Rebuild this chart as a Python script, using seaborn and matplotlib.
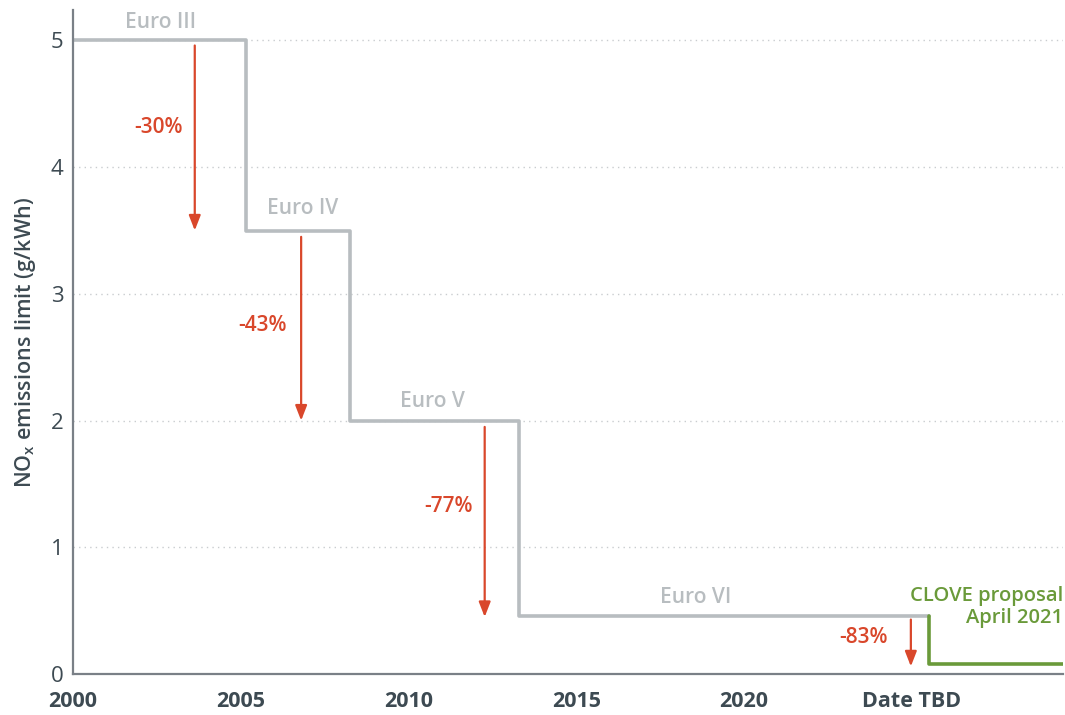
import matplotlib
matplotlib.use("Agg")
import matplotlib.pyplot as plt
import seaborn as sns
import pandas as pd

# ===============================
# DATOS
# ===============================

stage_names = ["Euro III", "Euro IV", "Euro V", "Euro VI"]
stage_start = [2000, 2005.15, 2008.25, 2013.3, 2025.5]
stage_limit = [5.0, 3.5, 2.0, 0.46, 0.46]

clove_x = [2025.5, 2025.5, 2029.5]
clove_y = [0.46, 0.08, 0.08]

drop_labels = ["-30%", "-43%", "-77%", "-83%"]
drop_x = [2003.63, 2006.8, 2012.27, 2024.97]
drop_top = [4.96, 3.45, 1.95, 0.43]
drop_bottom = [3.5, 2.0, 0.45, 0.06]

xtick_pos = [2000, 2005, 2010, 2015, 2020, 2025]
xtick_labels = ["2000", "2005", "2010", "2015", "2020", "Date TBD"]
ytick_pos = [0, 1, 2, 3, 4, 5]

GREY = "#b8bdc0"
GREEN = "#6a9a3a"
RED = "#d9472b"
TEXT = "#3d4a52"
FONT = "Open Sans"

# ===============================
# FIGURA
# ===============================

sns.set_style("white")
plt.rcParams["font.family"] = [FONT, "DejaVu Sans"]

fig = plt.figure(figsize=(10.65, 7.15), dpi=100)
ax = fig.add_axes([0.0685, 0.0573, 0.9295, 0.9287])

steps = pd.DataFrame({"year": stage_start, "limit": stage_limit})
sns.lineplot(data=steps, x="year", y="limit", ax=ax, color=GREY,
             linewidth=2.6, drawstyle="steps-post", estimator=None, sort=False)

clove = pd.DataFrame({"year": clove_x, "limit": clove_y})
sns.lineplot(data=clove, x="year", y="limit", ax=ax, color=GREEN,
             linewidth=2.6, estimator=None, sort=False)

# flechas de reduccion
for x, top, bottom in zip(drop_x, drop_top, drop_bottom):
    ax.annotate("", xy=(x, bottom), xytext=(x, top),
                arrowprops=dict(arrowstyle="-|>,head_width=0.35,head_length=0.9",
                                color=RED, lw=1.6, shrinkA=0, shrinkB=0))

drop_text_pos = [(2002.55, 4.31), (2005.65, 2.75), (2011.2, 1.32), (2023.55, 0.29)]
for label, (x, y) in zip(drop_labels, drop_text_pos):
    ax.text(x, y, label, color=RED, fontsize=15, fontweight="semibold",
            ha="center", va="center")

stage_text_pos = [(2002.6, 5.14), (2006.85, 3.67), (2010.7, 2.15), (2018.57, 0.6)]
for label, (x, y) in zip(stage_names, stage_text_pos):
    ax.text(x, y, label, color=GREY, fontsize=15, fontweight="semibold",
            ha="center", va="center")

ax.text(2029.5, 0.615, "CLOVE proposal", color=GREEN, fontsize=14.5,
        fontweight="semibold", ha="right", va="center")
ax.text(2029.5, 0.44, "April 2021", color=GREEN, fontsize=14.5,
        fontweight="semibold", ha="right", va="center")

# ejes
ax.set_xlim(2000, 2029.5)
ax.set_ylim(0, 5.24)
ax.set_xticks(xtick_pos)
ax.set_xticklabels(xtick_labels, fontsize=15.5, fontweight="bold", color=TEXT)
ax.set_yticks(ytick_pos)
ax.set_yticklabels([str(v) for v in ytick_pos], fontsize=16, color=TEXT)
ax.tick_params(axis="both", length=0)
ax.tick_params(axis="x", pad=12)
ax.tick_params(axis="y", pad=7)

for v in ytick_pos[1:]:
    ax.axhline(v, color="#c9cccf", linestyle=(0, (1, 3)), linewidth=1, zorder=0)

ax.set_xlabel("")
ax.set_ylabel("NO$_\\mathregular{x}$ emissions limit (g/kWh)", fontsize=15.5,
              fontweight="semibold", color=TEXT, labelpad=9)

sns.despine(ax=ax)
for side in ["left", "bottom"]:
    ax.spines[side].set_color("#7a8087")
    ax.spines[side].set_linewidth(1.6)

fig.savefig("out.png", dpi=100)
